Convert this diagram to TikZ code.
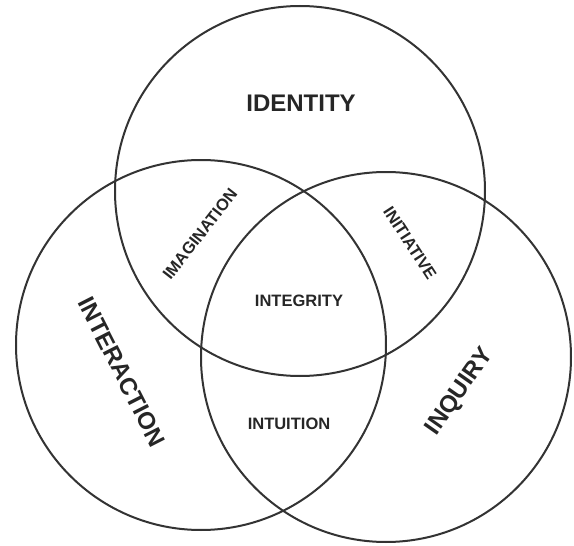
\documentclass[tikz,border=0pt]{standalone}
\usepackage{fontspec}
\setmainfont{Liberation Sans}
\begin{document}
\begin{tikzpicture}[x=1pt,y=-1pt,
  ring/.style={circle,draw=black!80,line width=2pt,inner sep=0pt,minimum size=370pt},
  big/.style={font=\bfseries\fontsize{24}{24}\selectfont,text=black!85,inner sep=0pt},
  small/.style={font=\bfseries\fontsize{16.5}{16.5}\selectfont,text=black!85,inner sep=0pt}]
\useasboundingbox (0,0) rectangle (574,546);
\node[ring] (ctop) at (300,191) {};
\node[ring] (cleft) at (201,345) {};
\node[ring] (cright) at (386,357) {};
\node[big] (identity) at (301,103) {IDENTITY};
\node[big,rotate=-63] (interaction) at (122,372) {INTERACTION};
\node[big,rotate=55] (inquiry) at (460,392) {INQUIRY};
\node[small] (integrity) at (299,301) {INTEGRITY};
\node[small] (intuition) at (289,424) {INTUITION};
\node[small,rotate=52] (imagination) at (200,234) {IMAGINATION};
\node[small,rotate=-57] (initiative) at (410,243) {INITIATIVE};
\end{tikzpicture}
\end{document}
